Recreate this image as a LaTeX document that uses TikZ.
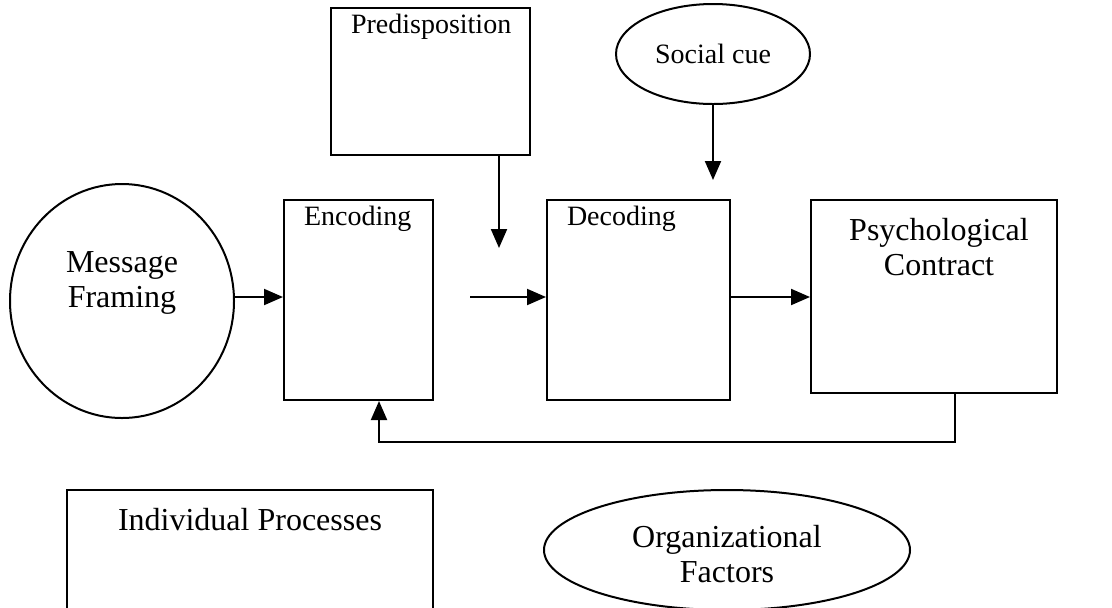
\documentclass[tikz,border=0pt]{standalone}
\usepackage{fontspec}
\setmainfont{Liberation Serif}
\usetikzlibrary{shapes.geometric,arrows.meta}
\begin{document}
\begin{tikzpicture}[x=0.5pt,y=-0.5pt,line width=1pt,
  box/.style={draw,rectangle,inner sep=0pt},
  oval/.style={draw,ellipse,inner sep=0pt},
  arr/.style={-{Triangle[length=9.5pt,width=8pt]}},
  big/.style={font=\fontsize{16}{17.5}\selectfont,align=center},
  small/.style={font=\fontsize{14}{17}\selectfont},
  tl/.style={small,anchor=north west,inner sep=0pt,xshift=10pt,yshift=-3pt}]
\useasboundingbox (0,0) rectangle (1112,607);
\clip (0,0) rectangle (1112,607);
% nodes
\node[box,minimum width=99.5pt,minimum height=73.5pt,
  label={[tl]north west:Predisposition}] (pred) at (430.5,81.5) {};
\node[oval,small,minimum width=97pt,minimum height=50pt] (soc) at (713,54) {Social cue};
\node[oval,minimum width=112pt,minimum height=117pt,
  label={[big,yshift=9pt]center:Message\\Framing}] (msg) at (122,301) {};
\node[box,minimum width=74.5pt,minimum height=100pt,
  label={[tl]north west:Encoding}] (enc) at (358.5,300) {};
\node[box,minimum width=91.5pt,minimum height=100pt,
  label={[tl]north west:Decoding}] (dec) at (638.5,300) {};
\node[box,minimum width=123pt,minimum height=96.5pt,
  label={[big,anchor=north,yshift=-6pt,xshift=2.5pt]north:Psychological\\Contract}] (psy) at (934,296.5) {};
\node[box,minimum width=183pt,minimum height=105pt,
  label={[big,anchor=north,yshift=-6pt]north:Individual Processes}] (ind) at (250,595) {};
\node[oval,big,minimum width=183pt,minimum height=60pt,text depth=0pt,yshift=0pt] (org) at (727,550) {};
\node[big] (orgtext) at (org.center) [yshift=-2pt] {Organizational\\Factors};
% free connector ends
\coordinate (pin) at (499,248);
\coordinate (sin) at (713,180);
\coordinate (gap) at (470,297);
\coordinate (fbA) at (955,442);
\coordinate (fbB) at (379,442);
% connectors
\draw[arr] (msg.east |- 0,297) -- (enc.west |- 0,297);
\draw[arr] (gap) -- (dec.west |- gap);
\draw[arr] (dec.east |- 0,297) -- (psy.west |- 0,297);
\draw[arr] (pred.south -| pin) -- (pin);
\draw[arr] (soc.south) -- (sin);
\draw[arr] (psy.south -| fbA) -- (fbA) -- (fbB) -- (enc.south -| fbB);
\end{tikzpicture}
\end{document}
